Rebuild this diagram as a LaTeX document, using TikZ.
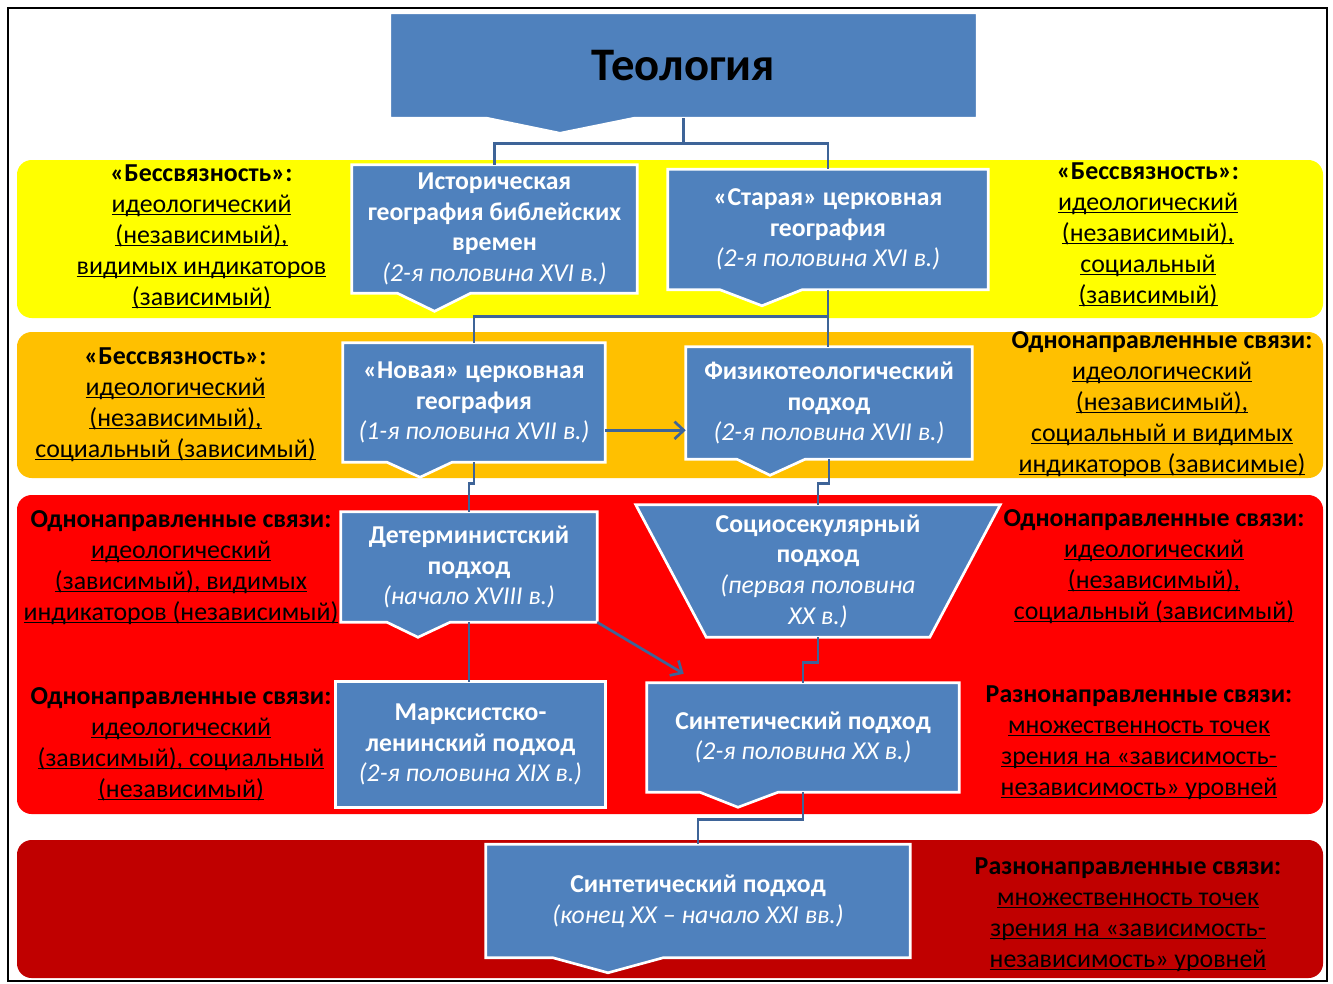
\documentclass[tikz,border=0pt]{standalone}
\usepackage{fontspec}
\setmainfont{Carlito}
\usetikzlibrary{arrows.meta,calc,backgrounds}
\definecolor{boxblue}{RGB}{79,129,189}
\definecolor{linkblue}{RGB}{62,100,152}
\definecolor{bandYellow}{RGB}{255,255,0}
\definecolor{bandOrange}{RGB}{255,192,0}
\definecolor{bandRed}{RGB}{255,0,0}
\definecolor{bandDark}{RGB}{192,0,0}
\pgfdeclarelayer{bands}
\pgfsetlayers{bands,background,main}
\newcommand{\und}[1]{\underline{\smash{#1}}}
\newcommand{\dates}[1]{{\mdseries\itshape #1}}
% box outline with a pointer under it: node, base left, base right, tip x, depth
\newcommand{\callout}[5]{%
  \begin{scope}[on background layer]
    \draw[boxshape] (#1.north west) -- (#1.north east) -- (#1.south east)
      -- ($(#1.south)+(#3,0)$) -- ($(#1.south)+(#4,#5)$) -- ($(#1.south)+(#2,0)$)
      -- (#1.south west) -- cycle;
  \end{scope}}
\tikzset{
  boxshape/.style={fill=boxblue, draw=white, line width=2pt, line join=miter},
  box/.style={align=center, text=white, inner sep=0pt,
              font=\fontsize{19.3}{23}\selectfont\bfseries},
  note/.style={align=center, inner sep=0pt, font=\fontsize{19.4}{23.25}\selectfont},
  band/.style={rounded corners=11pt},
  link/.style={draw=linkblue, line width=2pt},
  arr/.style={link, -{Straight Barb[length=7pt,width=13pt,line width=2pt]}},
}
\begin{document}
\begin{tikzpicture}[x=0.75pt, y=-0.75pt]
\useasboundingbox (0,0) rectangle (1333,983);
\draw[line width=0.8pt] (8,8) rectangle (1327,981);

\begin{pgfonlayer}{bands}
\fill[band, bandYellow] (17,160) rectangle (1323,318);
\fill[band, bandOrange] (17,332) rectangle (1323,478);
\fill[band, bandRed] (17,495) rectangle (1323,814);
\fill[band, bandDark] (17,840) rectangle (1323,978);
\end{pgfonlayer}

% approaches
\node[box, text=black, font=\fontsize{35}{40}\selectfont\bfseries,
      minimum width=440pt, minimum height=78.75pt] (title) at (683.5,65.5) {\raisebox{-2pt}{Теология}};
\node[box, minimum width=213.75pt, minimum height=96pt] (hist) at (494.5,229)
  {Историческая\\география библейских\\времен\\\dates{(2-я половина XVI в.)}};
\node[box, minimum width=240pt, minimum height=90pt] (old) at (828,229.5)
  {«Старая» церковная\\география\\\dates{(2-я половина XVI в.)}};
\node[box, minimum width=196.5pt, minimum height=89.25pt] (nova) at (474,402.5)
  {«Новая» церковная\\география\\\dates{(1-я половина XVII в.)}};
\node[box, minimum width=214.5pt, minimum height=84pt] (phys) at (829,403)
  {Физикотеологический\\подход\\\dates{(2-я половина XVII в.)}};
\node[box, minimum width=192pt, minimum height=82.5pt] (det) at (469,567)
  {Детерминистский\\подход\\\dates{(начало XVIII в.)}};
\node[box, minimum width=273pt, minimum height=99pt] (socio) at (818,571)
  {Социосекулярный\\подход\\\dates{(первая половина}\\\dates{XX в.)}};
\node[box, minimum width=201.75pt, minimum height=93.75pt] (marx) at (470.5,744.5)
  {Марксистско-\\ленинский подход\\\dates{(2-я половина XIX в.)}};
\node[box, minimum width=234pt, minimum height=81.75pt] (synth) at (803,737.5)
  {Синтетический подход\\\dates{(2-я половина XX в.)}};
\node[box, minimum width=318pt, minimum height=84.75pt] (final) at (698,901)
  {Синтетический подход\\\dates{(конец XX – начало XXI вв.)}};

\callout{title}{-196.5}{-49.5}{-123.5}{15}
\callout{hist}{-97}{-24}{-60}{18}
\callout{old}{-108}{-26}{-66}{16}
\callout{nova}{-87}{-22}{-54}{15}
\callout{phys}{-92}{-24}{-59}{16}
\callout{det}{-82}{-19}{-51}{15}
\callout{synth}{-103}{-25}{-65}{15}
\callout{final}{-145}{-35}{-90}{15}
\begin{scope}[on background layer]
  \draw[boxshape] (marx.north west) rectangle (marx.south east);
  \draw[boxshape] (socio.north west) -- (socio.north east)
    -- ($(socio.south east)+(-70.5,0)$) -- ($(socio.south west)+(70.5,0)$) -- cycle;
\end{scope}

% links
\draw[link] (title.south) -- ++(0,25) -| (hist.north);
\draw[link] (title.south) -- ++(0,25) -| (old.north);
\draw[link] (old.south) -- ++(0,27) -| (nova.north);
\draw[link] (old.south) -- (old.south |- phys.north);
\draw[link] (nova.south) -- ++(0,21) -| (det.north);
\draw[link] (phys.south) -- ++(0,24) -| (socio.north);
\draw[link] (det.south) -- (det.south |- marx.north);
\draw[link] (socio.south) -- ++(0,25) -| (synth.north);
\draw[link] (synth.south) -- ++(0,27) -| (final.north);
\draw[arr] ($(nova.south east)+(0,-32)$) coordinate (n1) -- (n1 -| phys.west);
\draw[arr] (det.south east) -- ($(synth.north west)+(37,-9)$);

% relations
\node[note] (yl) at (201.5,236) {\textbf{«Бессвязность»:}\\\und{идеологический}\\\und{(независимый),}\\\und{видимых индикаторов}\\\und{(зависимый)}};
\node[note] (yr) at (1148,234.5) {\textbf{«Бессвязность»:}\\\und{идеологический}\\\und{(независимый),}\\\und{социальный}\\\und{(зависимый)}};
\node[note] (ol) at (175.5,403.5) {\textbf{«Бессвязность»:}\\\und{идеологический}\\\und{(независимый),}\\\und{социальный (зависимый)}};
\node[note] (or) at (1162,403.5) {\textbf{Однонаправленные связи:}\\\und{идеологический}\\\und{(независимый),}\\\und{социальный и видимых}\\\und{индикаторов (зависимые)}};
\node[note] (rl1) at (181,566.5) {\textbf{Однонаправленные связи:}\\\und{идеологический}\\\und{(зависимый), видимых}\\\und{индикаторов (независимый)}};
\node[note] (rr1) at (1154,565.5) {\textbf{Однонаправленные связи:}\\\und{идеологический}\\\und{(независимый),}\\\und{социальный (зависимый)}};
\node[note] (rl2) at (181,743.5) {\textbf{Однонаправленные связи:}\\\und{идеологический}\\\und{(зависимый), социальный}\\\und{(независимый)}};
\node[note] (rr2) at (1139,741.5) {\textbf{Разнонаправленные связи:}\\\und{множественность точек}\\\und{зрения на «зависимость-}\\\und{независимость» уровней}};
\node[note] (dr) at (1128,913.5) {\textbf{Разнонаправленные связи:}\\\und{множественность точек}\\\und{зрения на «зависимость-}\\\und{независимость» уровней}};
\end{tikzpicture}
\end{document}
